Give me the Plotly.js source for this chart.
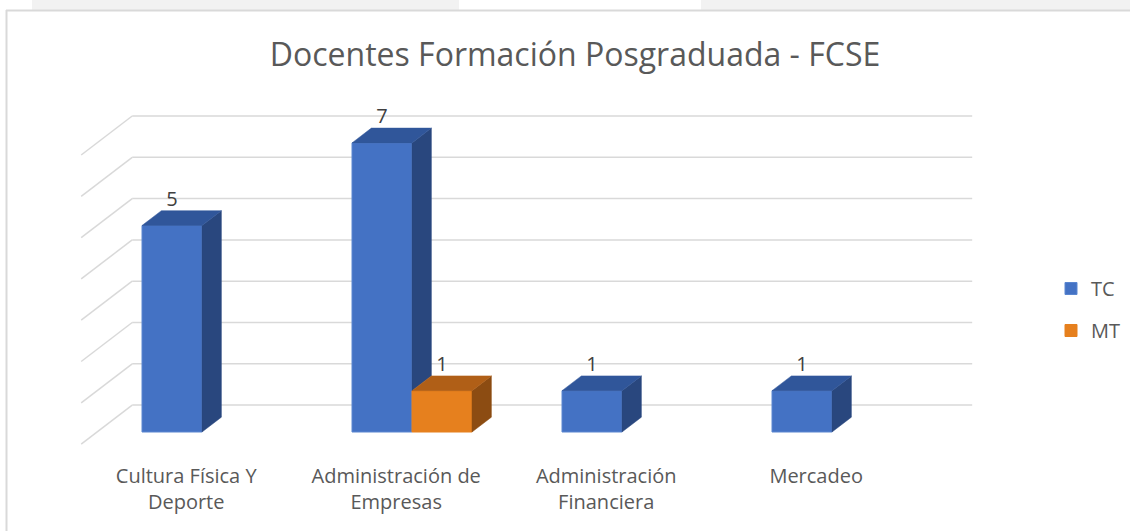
<!DOCTYPE html>
<html>
<head>
<meta charset="utf-8">
<script src="https://cdn.plot.ly/plotly-3.0.1.min.js"></script>
<style>
  html, body { margin: 0; padding: 0; background: #ffffff; }
  #chart { width: 1130px; height: 531px; }
</style>
</head>
<body>
<div id="chart"></div>
<script>
// ---------------- data ----------------
const categoryLabels = ['Cultura Física Y<br>Deporte', 'Administración de<br>Empresas', 'Administración<br>Financiera', 'Mercadeo'];
const seriesNames = ['TC', 'MT'];
const tcValues = [5, 7, 1, 1];
const mtValues = [null, 1, null, null];
const gridLevels = [0, 1, 2, 3, 4, 5, 6, 7];

// ---------------- styling / geometry constants ----------------
const FONT = '"Open Sans", "Noto Sans", sans-serif';
const W = 1130, H = 531;
const M = { l: 60, r: 130, t: 95, b: 76, autoexpand: false };
const PW = W - M.l - M.r, PH = H - M.t - M.b;
const PX_PER_CAT = 210, PX_PER_UNIT = 41.3;
const X0PX = 202, Y0PX = 432;               // pixel of (x=0, y=0) on the bar front plane
const DX = 51 / PX_PER_CAT, DY = 39 / PX_PER_UNIT;   // full floor depth offset (data units)
const F0 = 0.31, F1 = 0.69;                 // bar front/back depth fractions
const BAR_W = 60 / PX_PER_CAT;
const BDX = (F1 - F0) * DX, BDY = (F1 - F0) * DY;
const GRID = '#d9d9d9';

const xRange = [(M.l - X0PX) / PX_PER_CAT, (M.l + PW - X0PX) / PX_PER_CAT];
const yRange = [(Y0PX - (M.t + PH)) / PX_PER_UNIT, (Y0PX - M.t) / PX_PER_UNIT];

const colors = {
  TC: { front: '#4472C4', top: '#30569A', side: '#29477E', edge: '#5A86D0' },
  MT: { front: '#E6801E', top: '#B05F17', side: '#8C4C12', edge: '#E6801E' }
};

const idx = categoryLabels.map((_, i) => i);
const series = [
  { name: seriesNames[0], values: tcValues, offset: -BAR_W, c: colors.TC },
  { name: seriesNames[1], values: mtValues, offset: 0, c: colors.MT }
];

const traces = [];
// front faces as real bars
series.forEach((s, si) => {
  traces.push({
    type: 'bar', name: s.name, x: idx, y: s.values,
    width: BAR_W, offset: s.offset,
    marker: { color: s.c.front, line: { color: s.c.edge, width: 1 } },
    legendgroup: s.name, showlegend: true, hoverinfo: 'y+name'
  });
});

// side + top faces (3D look), computed from the same values
function poly(xs, ys, color, group) {
  traces.push({
    type: 'scatter', mode: 'lines', x: xs.concat([xs[0]]), y: ys.concat([ys[0]]),
    fill: 'toself', fillcolor: color, line: { color: color, width: 0.5 },
    legendgroup: group, showlegend: false, hoverinfo: 'skip'
  });
}
idx.forEach(i => {
  series.forEach((s, si) => {
    const v = s.values[i];
    if (v == null) return;
    const x0 = i + s.offset, x1 = x0 + BAR_W;
    // neighbour on the right hides the lower part of the side face
    let yb = 0;
    if (si + 1 < series.length && series[si + 1].values[i] != null) {
      yb = Math.min(series[si + 1].values[i], v);
    }
    if (yb < v) {
      poly([x1, x1 + BDX, x1 + BDX, x1], [yb, yb + BDY, v + BDY, v], s.c.side, s.name);
    }
    poly([x0, x1, x1 + BDX, x0 + BDX], [v, v, v + BDY, v + BDY], s.c.top, s.name);
  });
});

// data labels
series.forEach(s => {
  const xs = [], ys = [], tx = [];
  idx.forEach(i => {
    const v = s.values[i];
    if (v == null) return;
    xs.push(i + s.offset + BAR_W / 2);
    ys.push(v + BDY);
    tx.push(String(v));
  });
  traces.push({
    type: 'scatter', mode: 'text', x: xs, y: ys, text: tx,
    textposition: 'top center', cliponaxis: false,
    textfont: { family: FONT, size: 20, color: '#404040' },
    legendgroup: s.name, showlegend: false, hoverinfo: 'skip'
  });
});

// gridlines: back wall + left wall diagonals
const shapes = [];
const backL = -0.5 + (1 - F0) * DX, backR = categoryLabels.length - 0.5 + (1 - F0) * DX;
const frontL = -0.5 - F0 * DX;
gridLevels.forEach(k => {
  const yBack = k + (1 - F0) * DY, yFront = k - F0 * DY;
  shapes.push({ type: 'line', xref: 'x', yref: 'y', layer: 'below',
    x0: backL, x1: backR, y0: yBack, y1: yBack, line: { color: GRID, width: 1.5 } });
  shapes.push({ type: 'line', xref: 'x', yref: 'y', layer: 'below',
    x0: frontL, x1: backL, y0: yFront, y1: yBack, line: { color: GRID, width: 1.5 } });
});

// page decoration (screenshot frame)
const px2x = p => (p - M.l) / PW;
const py2y = p => 1 - (p - M.t) / PH;
shapes.push({ type: 'rect', xref: 'paper', yref: 'paper', layer: 'below',
  x0: px2x(32), x1: px2x(459), y0: py2y(10), y1: py2y(0), fillcolor: '#f2f2f2', line: { width: 0 } });
shapes.push({ type: 'rect', xref: 'paper', yref: 'paper', layer: 'below',
  x0: px2x(701), x1: px2x(1130), y0: py2y(10), y1: py2y(0), fillcolor: '#f2f2f2', line: { width: 0 } });
shapes.push({ type: 'line', xref: 'paper', yref: 'paper', layer: 'below',
  x0: px2x(6), x1: px2x(1130), y0: py2y(10.5), y1: py2y(10.5), line: { color: '#d9d9d9', width: 2 } });
shapes.push({ type: 'line', xref: 'paper', yref: 'paper', layer: 'below',
  x0: px2x(6.5), x1: px2x(6.5), y0: py2y(10), y1: py2y(531), line: { color: '#d9d9d9', width: 2 } });

const layout = {
  width: W, height: H,
  margin: M,
  paper_bgcolor: '#ffffff', plot_bgcolor: 'rgba(0,0,0,0)',
  font: { family: FONT, color: '#595959' },
  title: {
    text: 'Docentes Formación Posgraduada - FCSE',
    font: { family: FONT, size: 32, color: '#595959' },
    xref: 'container', yref: 'container', x: 575 / W, xanchor: 'center',
    y: 1 - 55 / H, yanchor: 'middle'
  },
  barmode: 'overlay',
  xaxis: {
    range: xRange, showgrid: false, zeroline: false, showline: false,
    tickmode: 'array', tickvals: idx.map(i => i - F0 * DX), ticktext: categoryLabels,
    ticks: '', ticklabelstandoff: 7,
    tickfont: { family: FONT, size: 20, color: '#595959' }, fixedrange: true
  },
  yaxis: {
    range: yRange, showgrid: false, zeroline: false, showline: false,
    showticklabels: false, ticks: '', fixedrange: true
  },
  legend: {
    x: px2x(1051), xanchor: 'left', y: py2y(269), yanchor: 'top',
    font: { family: FONT, size: 20, color: '#595959' },
    bgcolor: 'rgba(0,0,0,0)', tracegroupgap: 13, traceorder: 'grouped'
  },
  shapes: shapes,
  showlegend: true
};

Plotly.newPlot('chart', traces, layout, { displayModeBar: false, staticPlot: true });
</script>
</body>
</html>
